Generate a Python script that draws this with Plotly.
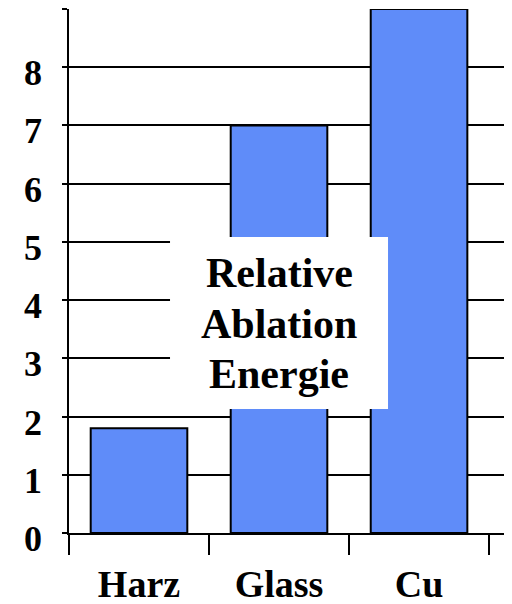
import plotly.graph_objects as go

categories = ["Harz", "Glass", "Cu"]
values = [1.8, 7.0, 9.0]
y_ticks = [0, 1, 2, 3, 4, 5, 6, 7, 8, 9]
y_labels = ["0", "1", "2", "3", "4", "5", "6", "7", "8"]
annotation_lines = ["Relative", "Ablation", "Energie"]

FONT = "Liberation Serif"

fig = go.Figure()
fig.add_trace(go.Bar(
    x=categories, y=values,
    marker=dict(color="#5f8cf9", line=dict(color="black", width=2)),
    width=0.69,
))

box_text = [
    dict(x=0.4817, y=yp, xref="paper", yref="paper",
         xanchor="center", yanchor="middle",
         text=t, showarrow=False,
         font=dict(family=FONT, size=42, color="black", weight="bold"))
    for t, yp in zip(annotation_lines, [0.4962, 0.3989, 0.3034])
]
y_label_ann = [
    dict(x=-0.057, y=float(lbl), xref="paper", yref="y",
         xanchor="right", yanchor="middle", yshift=-6,
         text=lbl, showarrow=False,
         font=dict(family=FONT, size=36, color="black", weight="bold"))
    for lbl in y_labels
]

# page has 8px body margin; figure sized to fit the window
fig.update_layout(
    width=504, height=596,
    margin=dict(l=61, r=7, t=1, b=71),
    paper_bgcolor="white", plot_bgcolor="white",
    showlegend=False,
    xaxis=dict(
        range=[-0.5, 2.614],
        automargin=False,
        tickson="boundaries",
        ticks="outside", ticklen=20, tickwidth=2, tickcolor="black",
        showline=True, linecolor="black", linewidth=2,
        showgrid=False,
        tickfont=dict(family=FONT, size=38, color="black", weight="bold"),
        ticklabelstandoff=16,
    ),
    yaxis=dict(
        range=[0, 9],
        automargin=False,
        tickvals=y_ticks, showticklabels=False,
        ticks="outside", ticklen=5, tickwidth=2, tickcolor="black",
        showline=True, linecolor="black", linewidth=2,
        showgrid=True, gridcolor="black", gridwidth=2,
        zeroline=False,
    ),
    shapes=[dict(
        type="rect", xref="paper", yref="paper",
        x0=0.2317, x1=0.7317, y0=0.2366, y1=0.5649,
        fillcolor="white", line=dict(width=0), layer="above",
    )],
    annotations=box_text + y_label_ann,
)

fig.write_html("out.html")
